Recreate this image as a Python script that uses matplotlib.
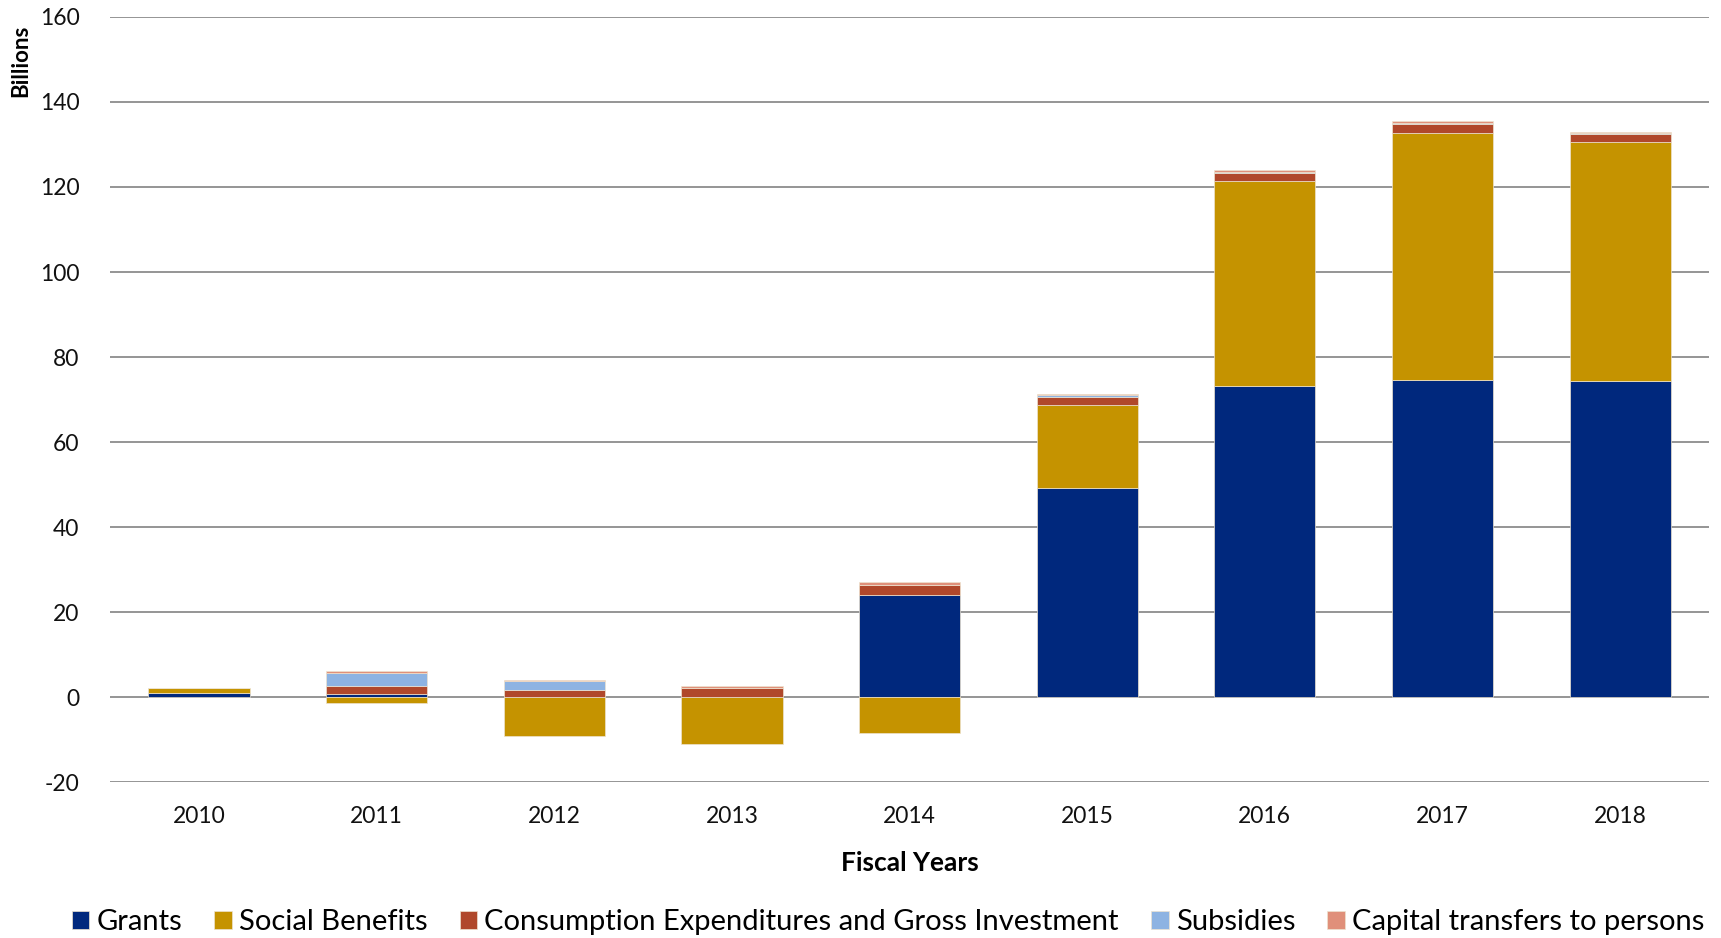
import matplotlib
matplotlib.use("Agg")
import matplotlib.pyplot as plt
import numpy as np

years = ["2010", "2011", "2012", "2013", "2014", "2015", "2016", "2017", "2018"]
series_names = ["Grants", "Social Benefits", "Consumption Expenditures and Gross Investment",
                "Subsidies", "Capital transfers to persons"]
grants = [1.1, 0.7, 0.1, 0.0, 24.1, 49.1, 73.2, 74.6, 74.4]
social_benefits = [1.0, -1.3, -9.2, -10.9, -8.4, 19.6, 48.1, 58.1, 56.1]
consumption = [0.0, 1.9, 1.5, 2.1, 2.3, 2.0, 2.0, 2.1, 2.0]
subsidies = [0.0, 3.2, 2.2, 0.0, 0.1, 0.4, 0.3, 0.2, 0.1]
capital_transfers = [0.0, 0.3, 0.3, 0.5, 0.5, 0.25, 0.4, 0.5, 0.4]
colors = ["#00287D", "#C59300", "#B0482B", "#8DB3E2", "#E0907A"]
yticks = [-20, 0, 20, 40, 60, 80, 100, 120, 140, 160]

plt.rcParams['font.family'] = ['Lato', 'DejaVu Sans']

fig = plt.figure(figsize=(17.21, 9.38), dpi=100)
ax = fig.add_axes([0.064, 0.166, 0.929, 0.816])

x = np.arange(len(years))
pos_base = np.zeros(len(years))
neg_base = np.zeros(len(years))
handles = []
for vals, name, c in zip([grants, social_benefits, consumption, subsidies, capital_transfers],
                         series_names, colors):
    v = np.array(vals, dtype=float)
    bottoms = np.where(v >= 0, pos_base, neg_base)
    b = ax.bar(x, v, 0.57, bottom=bottoms, color=c, edgecolor="#EDE3CF", linewidth=0.5,
               label=name, zorder=3)
    handles.append(b)
    pos_base = pos_base + np.where(v > 0, v, 0)
    neg_base = neg_base + np.where(v < 0, v, 0)

ax.set_ylim(-20, 160)
ax.set_xlim(-0.5, len(years) - 0.5)
ax.set_yticks(yticks)
ax.set_yticklabels([str(t) for t in yticks])
ax.set_xticks(x)
ax.set_xticklabels(years)
ax.tick_params(axis='both', length=0, labelsize=16.5, colors="#111111")
ax.tick_params(axis='y', pad=22)
ax.tick_params(axis='x', pad=17)
ax.grid(axis='y', color="#8C8C8C", linewidth=1.3, zorder=0)
for s in ax.spines.values():
    s.set_visible(False)

ax.set_xlabel("Fiscal Years", fontsize=19, fontweight='bold', labelpad=17)
fig.text(0.012, 0.935, "Billions", rotation=90, fontsize=16, fontweight='bold',
         ha='center', va='center')

leg = fig.legend(handles=handles, labels=series_names, loc='center', ncol=5,
                 bbox_to_anchor=(0.516, 0.017), frameon=False, fontsize=21,
                 handlelength=0.6, handleheight=0.6, handletextpad=0.25, columnspacing=1.1)

fig.savefig("out.png", dpi=100)
